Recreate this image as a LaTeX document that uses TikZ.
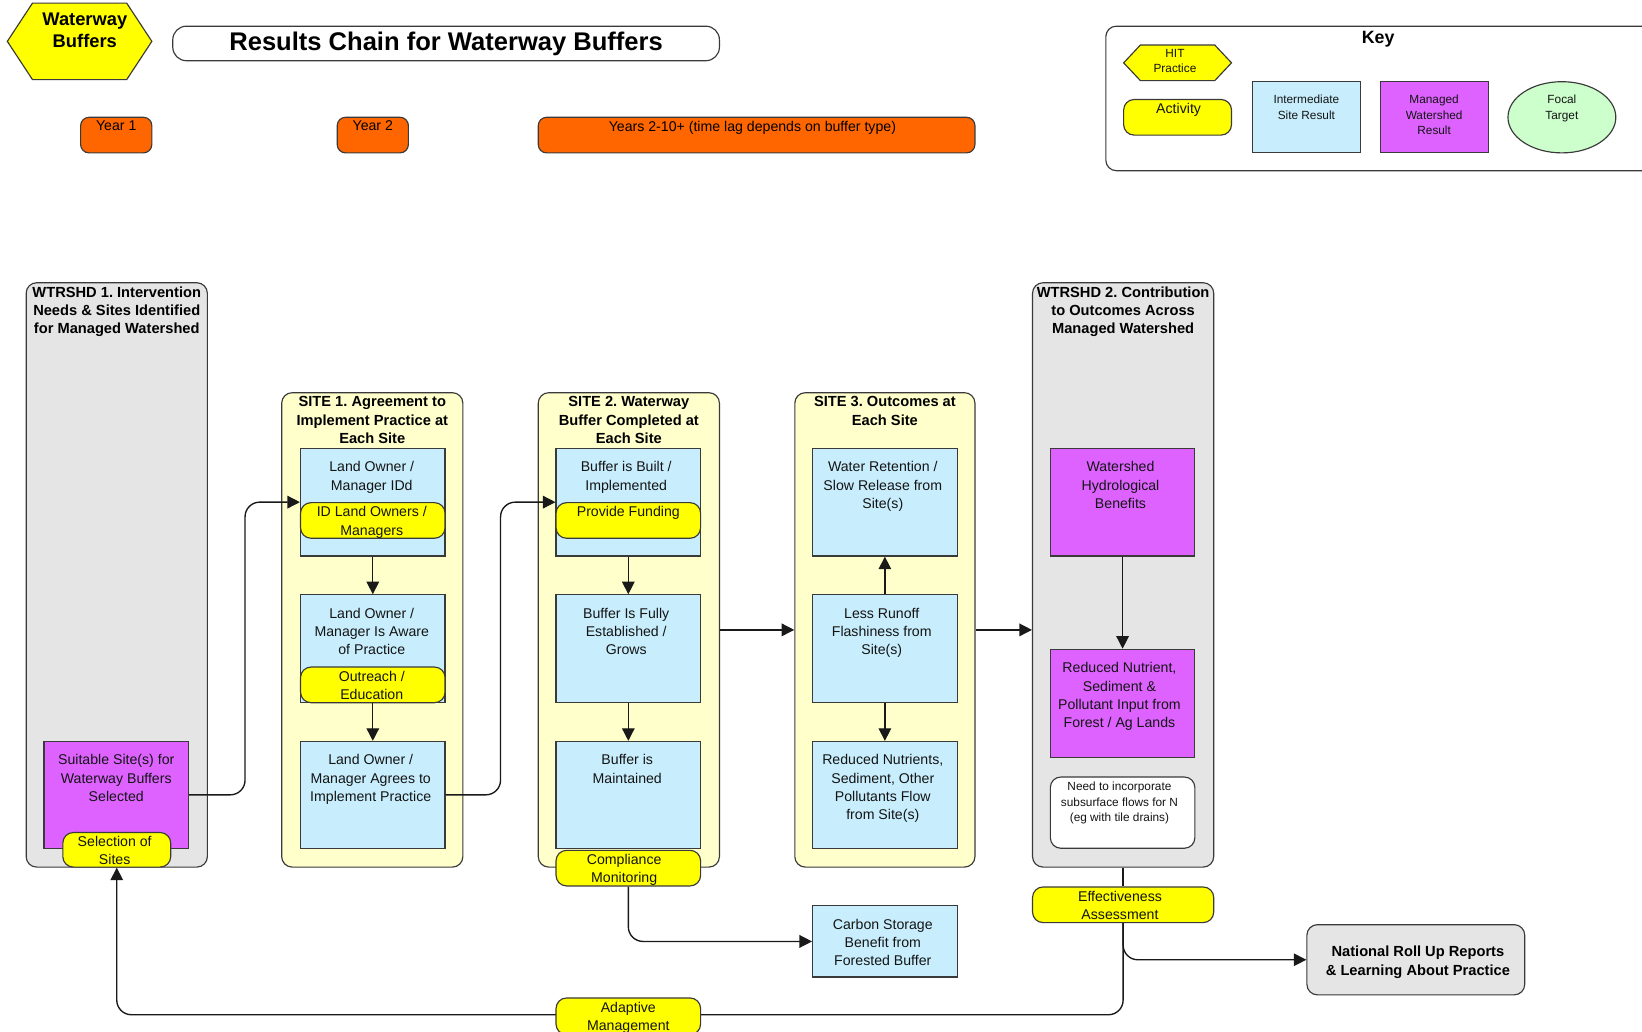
\documentclass[tikz,border=0pt]{standalone}
\usepackage{fontspec}
\setmainfont{Liberation Sans}
\usetikzlibrary{arrows.meta,fit,shapes.geometric,calc}
\definecolor{edge}{HTML}{3A3A3A}
\definecolor{ltblue}{HTML}{C8EEFD}
\definecolor{mag}{HTML}{DE62FF}
\definecolor{yel}{HTML}{FFFF00}
\definecolor{ltyel}{HTML}{FFFFCC}
\definecolor{gry}{HTML}{E5E5E5}
\definecolor{orng}{HTML}{FF6600}
\definecolor{ltgreen}{HTML}{CCFFCC}
\definecolor{txtc}{HTML}{141414}
\frenchspacing
\begin{document}
\begin{tikzpicture}[x=1pt,y=-1pt,
  ol/.style={draw=edge,line width=1.1pt},
  cont/.style={ol,rounded corners=10pt,inner sep=0pt},
  graycont/.style={cont,fill=gry},
  yelcont/.style={cont,fill=ltyel},
  ibox/.style={ol,fill=ltblue,inner sep=0pt},
  mbox/.style={ol,fill=mag,inner sep=0pt},
  actbox/.style={ol,fill=yel,rounded corners=10pt,inner sep=0pt},
  orbox/.style={ol,fill=orng,rounded corners=8pt,inner sep=0pt},
  txt/.style={font=\fontsize{13.5}{17.5}\selectfont,align=center,inner sep=0pt,text=txtc,anchor=north},
  btxt/.style={font=\fontsize{14}{17.5}\selectfont\bfseries,align=center,inner sep=0pt,text=black,anchor=north},
  stxt/.style={font=\fontsize{11.3}{15}\selectfont,align=center,inner sep=0pt,text=txtc,anchor=north},
  conn/.style={draw=black!90,line width=1.3pt,rounded corners=14pt},
  arr/.style={conn,-{Triangle[length=12pt,width=12pt]}},
]
\clip (0,0) rectangle (1568,985);
\fill[white] (0,0) rectangle (1568,985);

% ---------- header ----------
\filldraw[fill=yel,draw=edge,line width=1.1pt] (7,39.5) -- (31,3) -- (121,3) -- (145,39.5) -- (121,76) -- (31,76) -- cycle;
\node[font=\fontsize{17.5}{20.5}\selectfont\bfseries,align=center,inner sep=0pt,anchor=north] (wb) at (81,12.5) {Waterway\\Buffers};

\node[ol,fill=white,rounded corners=13pt,inner sep=0pt,fit={(165,25)(687,58)}] (title) {};
\node[font=\fontsize{24.4}{28}\selectfont\bfseries,anchor=base,inner sep=0pt] (titlet) at (426,48.5) {Results Chain for Waterway Buffers};

\node[orbox,fit={(77,112)(145,146)}] (y1) {};
\node[txt,text=black] at ([yshift=-4pt]y1.north) {Year 1};
\node[orbox,fit={(322,112)(390,146)}] (y2) {};
\node[txt,text=black] at ([yshift=-4pt]y2.north) {Year 2};
\node[orbox,fit={(514,112)(931,146)}] (y3) {};
\node[txt,text=black] at ([xshift=-4pt,yshift=-4pt]y3.north) {Years 2-10+ (time lag depends on buffer type)};

% ---------- key ----------
\node[ol,fill=white,rounded corners=10pt,inner sep=0pt,fit={(1056,25)(1600,163)}] (keybox) {};
\node[font=\fontsize{17}{20}\selectfont\bfseries,inner sep=0pt,anchor=north] (keyt) at (1316,29.5) {Key};
\filldraw[fill=yel,draw=edge,line width=1.1pt] (1073,60) -- (1089,43) -- (1160,43) -- (1176,60) -- (1160,77) -- (1089,77) -- cycle;
\node[stxt] (hitt) at (1122,46.5) {HIT\\Practice};
\node[actbox,fit={(1073,95)(1176,129)}] (kact) {};
\node[txt] at ([xshift=1pt,yshift=-4pt]kact.north) {Activity};
\node[ibox,fit={(1196,78)(1299,146)}] (kint) {};
\node[stxt] at ([yshift=-13pt]kint.north) {Intermediate\\Site Result};
\node[mbox,fit={(1318,78)(1421,146)}] (kman) {};
\node[stxt] at ([yshift=-13pt]kman.north) {Managed\\Watershed\\Result};
\node[ol,fill=ltgreen,ellipse,minimum width=103pt,minimum height=68pt,inner sep=0pt] (kfoc) at (1491.5,112) {};
\node[stxt] at ([yshift=-13pt]kfoc.north) {Focal\\Target};

% ---------- containers ----------
\node[graycont,fit={(25,270)(198,828)}] (w1) {};
\node[btxt] at ([yshift=-4pt]w1.north) {WTRSHD 1. Intervention\\Needs \& Sites Identified\\for Managed Watershed};
\node[yelcont,fit={(269,375)(442,828)}] (s1) {};
\node[btxt] at ([yshift=-4pt]s1.north) {SITE 1. Agreement to\\Implement Practice at\\Each Site};
\node[yelcont,fit={(514,375)(687,828)}] (s2) {};
\node[btxt] at ([yshift=-4pt]s2.north) {SITE 2. Waterway\\Buffer Completed at\\Each Site};
\node[yelcont,fit={(759,375)(931,828)}] (s3) {};
\node[btxt] at ([yshift=-4pt]s3.north) {SITE 3. Outcomes at\\Each Site};
\node[graycont,fit={(986,270)(1159,828)}] (w2) {};
\node[btxt] at ([yshift=-4pt]w2.north) {WTRSHD 2. Contribution\\to Outcomes Across\\Managed Watershed};

% ---------- WTRSHD 1 ----------
\node[mbox,fit={(42,708)(180,810)}] (ss) {};
\node[txt] at ([yshift=-13pt]ss.north) {Suitable Site(s) for\\Waterway Buffers\\Selected};
\node[actbox,fit={(60,795)(163,828)}] (sel) {};
\node[txt] at ([xshift=-2pt,yshift=-4pt]sel.north) {Selection of\\Sites};

% ---------- SITE 1 ----------
\node[ibox,fit={(287,428)(425,531)}] (a1) {};
\node[txt] at ([xshift=-1pt,yshift=-13pt]a1.north) {Land Owner /\\Manager IDd};
\node[actbox,fit={(287,480)(425,514)}] (a1act) {};
\node[txt] at ([xshift=-1pt,yshift=-4pt]a1act.north) {ID Land Owners /\\Managers};
\node[ibox,fit={(287,568)(425,671)}] (a2) {};
\node[txt] at ([xshift=-1pt,yshift=-13pt]a2.north) {Land Owner /\\Manager Is Aware\\of Practice};
\node[actbox,fit={(287,637)(425,671)}] (a2act) {};
\node[txt] at ([xshift=-1pt,yshift=-4pt]a2act.north) {Outreach /\\Education};
\node[ibox,fit={(287,708)(425,810)}] (a3) {};
\node[txt] at ([xshift=-2pt,yshift=-13pt]a3.north) {Land Owner /\\Manager Agrees to\\Implement Practice};

% ---------- SITE 2 ----------
\node[ibox,fit={(531,428)(669,531)}] (b1) {};
\node[txt] at ([xshift=-2pt,yshift=-13pt]b1.north) {Buffer is Built /\\Implemented};
\node[actbox,fit={(531,480)(669,514)}] (b1act) {};
\node[txt] at ([yshift=-4pt]b1act.north) {Provide Funding};
\node[ibox,fit={(531,568)(669,671)}] (b2) {};
\node[txt] at ([xshift=-2pt,yshift=-13pt]b2.north) {Buffer Is Fully\\Established /\\Grows};
\node[ibox,fit={(531,708)(669,810)}] (b3) {};
\node[txt] at ([xshift=-1pt,yshift=-13pt]b3.north) {Buffer is\\Maintained};
\node[actbox,fit={(531,812)(669,846)}] (cm) {};
\node[txt] at ([xshift=-4pt,yshift=-4pt]cm.north) {Compliance\\Monitoring};

% ---------- SITE 3 ----------
\node[ibox,fit={(776,428)(914,531)}] (c1) {};
\node[txt] at ([xshift=-2pt,yshift=-13pt]c1.north) {Water Retention /\\Slow Release from\\Site(s)};
\node[ibox,fit={(776,568)(914,671)}] (c2) {};
\node[txt] at ([xshift=-3pt,yshift=-13pt]c2.north) {Less Runoff\\Flashiness from\\Site(s)};
\node[ibox,fit={(776,708)(914,810)}] (c3) {};
\node[txt] at ([xshift=-2pt,yshift=-13pt]c3.north) {Reduced Nutrients,\\Sediment, Other\\Pollutants Flow\\from Site(s)};
\node[ibox,fit={(776,865)(914,933)}] (cb) {};
\node[txt] at ([xshift=-2pt,yshift=-13pt]cb.north) {Carbon Storage\\Benefit from\\Forested Buffer};

% ---------- WTRSHD 2 ----------
\node[mbox,fit={(1003,428)(1141,531)}] (d1) {};
\node[txt] at ([xshift=-2pt,yshift=-13pt]d1.north) {Watershed\\Hydrological\\Benefits};
\node[mbox,fit={(1003,620)(1141,723)}] (d2) {};
\node[txt] at ([xshift=-3pt,yshift=-13pt]d2.north) {Reduced Nutrient,\\Sediment \&\\Pollutant Input from\\Forest / Ag Lands};
\node[ol,fill=white,rounded corners=10pt,inner sep=0pt,fit={(1003,742)(1141,810)}] (note) {};
\node[stxt] at ([xshift=-3pt,yshift=-5pt]note.north) {Need to incorporate\\subsurface flows for N\\(eg with tile drains)};
\node[actbox,fit={(986,847)(1159,881)}] (ea) {};
\node[txt] at ([xshift=-3pt,yshift=-4pt]ea.north) {Effectiveness\\Assessment};
\node[ol,fill=gry,rounded corners=10pt,inner sep=0pt,fit={(1248,883)(1456,950)}] (nat) {};
\node[font=\fontsize{14}{18}\selectfont\bfseries,align=center,inner sep=0pt,anchor=north] at ([xshift=2pt,yshift=-21pt]nat.north) {National Roll Up Reports\\\& Learning About Practice};

% ---------- connectors ----------
\coordinate (j1) at (234,0);
\coordinate (j2) at (478,0);
\coordinate (bot) at (0,969);
\draw[arr] (ss.east) -| (j1 |- a1.west) -- (a1.west);
\draw[arr] (a3.east) -| (j2 |- b1.west) -- (b1.west);
\draw[arr] (a1.south) -- (a2.north);
\draw[arr] (a2.south) -- (a3.north);
\draw[arr] (b1.south) -- (b2.north);
\draw[arr] (b2.south) -- (b3.north);
\draw[arr] (c2.north) -- (c1.south);
\draw[arr] (c2.south) -- (c3.north);
\draw[arr] (d1.south) -- (d2.north);
\draw[arr] (s2.east) -- (s3.west);
\draw[arr] (s3.east) -- (s3.east -| w2.west);
\draw[arr] (cm.south) |- (cb.west);
\draw[conn] (w2.south) -- (ea.north);
\draw[arr] (ea.south) |- (nat.west);
\draw[arr] (ea.south) |- (sel.south |- bot) -- (sel.south);

% ---------- adaptive management ----------
\node[actbox,fit={(531,953)(669,988)}] (am) {};
\node[txt] at ([yshift=-4pt]am.north) {Adaptive\\Management};
\end{tikzpicture}
\end{document}
